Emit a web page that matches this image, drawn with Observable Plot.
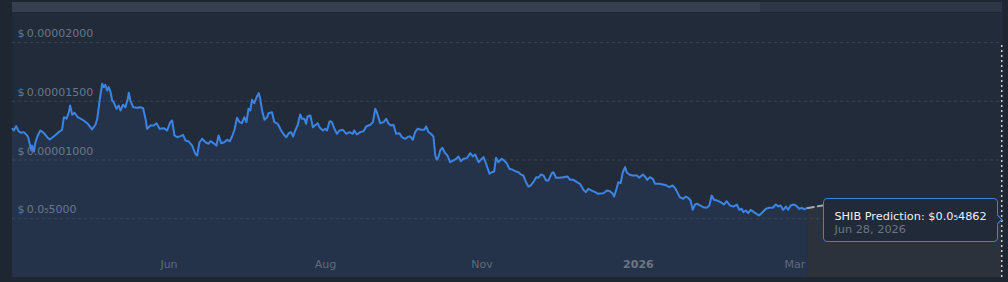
<!DOCTYPE html>
<html><head><meta charset="utf-8">
<script src="https://cdn.jsdelivr.net/npm/d3@7"></script>
<script src="https://cdn.jsdelivr.net/npm/@observablehq/plot@0.6"></script>
<style>
html,body{margin:0;padding:0;background:#1e2631;}
#wrap{position:relative;width:1008px;height:282px;overflow:hidden;font-family:"DejaVu Sans",sans-serif;}
#wrap svg{position:absolute;left:0;top:0;}
#nav{position:absolute;left:12px;top:2px;width:990px;height:10px;background:#2d3644;z-index:2;}
#nav .thumb{position:absolute;left:0;top:0;width:748px;height:10px;background:#363f4e;}
#tip{position:absolute;box-sizing:border-box;height:44px;padding:11px 10px 7px 10px;border:1px solid #3f80da;border-radius:4px;background:#212a38;white-space:nowrap;font-size:11.3px;line-height:13px;z-index:3;}
#tip .t1{color:#eef1f5;}
#tip .t2{color:#6b7585;}
#tip::after{content:"";position:absolute;right:-4px;top:50%;width:6px;height:6px;margin-top:-4px;border-top:1px solid #3f80da;border-right:1px solid #3f80da;background:#212a38;transform:rotate(45deg);}
</style>
</head><body>
<div id="wrap"><div id="nav"><div class="thumb"></div></div></div>
<script>
// price values in units of 1e-6 USD; x = day index along the chart
const histDays = [
0.0,0.5,1.4,2.4,3.3,4.3,5.4,6.0,6.6,7.2,
7.5,8.2,8.8,9.7,10.7,12.0,13.3,14.3,15.8,17.7,
19.0,19.7,20.7,21.6,22.1,22.9,23.8,25.0,26.1,27.3,
28.9,30.5,31.8,32.5,33.5,34.4,35.0,35.6,36.3,36.9,
37.6,38.2,38.8,39.9,40.7,41.4,42.4,43.3,44.2,44.6,
45.2,46.3,47.8,49.0,50.1,51.0,51.6,52.9,54.1,55.2,
56.4,58.0,59.3,60.5,61.2,62.1,63.1,64.4,65.4,66.3,
67.6,68.9,70.1,70.8,71.7,72.7,74.0,75.2,75.9,77.1,
78.2,79.0,80.0,81.2,82.3,83.3,84.2,85.1,86.1,87.1,
88.0,88.9,89.7,90.5,91.2,91.8,92.7,93.5,94.4,95.0,
95.7,96.6,97.6,98.2,99.5,100.4,101.7,103.0,104.0,105.0,
105.9,106.8,107.6,108.4,109.3,110.3,111.0,111.9,112.6,113.1,
114.2,115.2,115.9,117.0,117.7,119.0,119.9,120.6,121.6,122.5,
123.4,124.4,125.4,126.7,128.0,129.2,130.5,131.0,132.1,133.3,
134.6,135.6,137.2,138.2,139.1,139.7,141.0,142.3,143.3,144.2,
145.1,146.1,147.1,148.4,149.3,150.6,151.8,152.5,153.5,154.4,
155.3,156.6,157.9,158.6,159.5,160.4,161.4,162.1,162.7,163.3,
164.0,164.8,165.9,166.8,167.8,169.1,170.1,171.0,171.9,172.9,
174.2,175.5,176.5,177.4,178.7,179.6,180.6,181.6,182.9,183.8,
184.7,185.4,186.3,187.6,188.5,189.5,190.5,191.8,192.7,194.0,
194.9,195.9,196.9,197.8,198.7,199.7,200.8,201.7,202.6,203.6,
204.6,205.5,206.8,207.4,208.4,209.7,211.2,212.8,213.8,215.1,
216.4,217.6,218.9,219.9,220.8,222.1,223.4,224.6,226.6,227.9,
229.1,230.2,230.7,231.4,232.3,233.2,234.0,234.9,235.5,236.5,
237.8,239.4,240.3,241.7,242.5,243.4,244.4,245.5,246.4,248.0,
249.5,250.8,251.8,253.1,254.0,254.9,255.9,257.2,258.2,259.1,
260.0,260.8,261.7,262.6,263.6,264.9,266.2,267.2,268.1,269.0,
270.2,271.5,272.8,273.8,275.1,276.4,277.7,278.7,279.6,280.2,
281.2,282.1,283.0,284.3,285.3,286.3,287.6,288.9,290.2,291.5,
292.7,293.6,294.5,295.5,296.6,297.4,298.4,299.4,300.4,301.7,
302.6,303.5,304.5,305.0];
const histPrices = [
12.66,12.51,12.88,12.43,12.31,12.37,12.14,11.94,11.38,10.81,
11.23,10.72,11.51,12.09,12.51,12.31,11.94,11.74,12.00,12.37,
12.57,13.64,13.51,14.07,14.64,13.85,14.02,13.64,13.51,13.36,
13.08,12.60,13.00,13.51,15.21,16.49,16.20,16.40,15.91,16.20,
15.77,15.06,14.92,14.36,14.64,14.21,14.70,14.49,15.21,15.72,
15.06,14.49,14.44,14.49,14.41,13.51,12.66,12.94,12.94,13.13,
12.66,12.71,12.51,13.22,13.36,12.09,11.94,12.03,12.14,11.66,
11.57,11.23,10.53,10.38,11.51,11.80,11.51,11.38,11.60,11.43,
11.23,12.09,11.43,11.51,11.72,11.60,12.00,12.57,13.59,13.22,
13.13,13.64,13.22,14.36,14.21,15.12,14.83,15.29,15.69,15.21,
14.21,13.42,13.64,13.98,14.07,13.22,13.08,12.51,12.17,11.94,
12.28,12.37,12.00,12.51,12.94,13.87,13.51,13.51,13.08,13.70,
13.79,12.79,12.94,13.13,12.79,12.51,12.66,12.51,13.30,13.22,
12.66,12.23,12.51,12.57,12.23,12.37,12.23,12.51,12.17,12.37,
12.45,12.85,13.00,13.22,14.36,14.07,13.13,13.22,13.51,13.08,
12.94,13.00,12.23,12.28,11.94,11.80,12.00,12.00,11.72,12.37,
12.66,12.57,12.57,12.85,12.37,12.23,12.00,10.38,10.02,10.24,
10.81,11.04,10.58,10.38,9.81,9.96,10.10,10.30,9.90,10.10,
10.15,10.58,10.30,10.47,9.81,10.02,10.24,9.68,8.83,8.96,
9.02,10.19,9.81,10.10,9.96,9.73,9.25,9.17,9.05,8.96,
8.77,8.68,8.11,7.74,7.83,8.11,8.54,8.49,8.77,8.68,
8.26,8.26,8.88,8.96,8.49,8.49,8.54,8.60,8.31,8.31,
8.11,7.97,7.46,7.26,7.55,7.40,7.26,7.12,7.17,7.40,
7.34,7.12,6.89,7.40,8.11,8.03,8.96,9.39,8.96,8.77,
8.68,8.68,8.49,8.77,8.60,8.31,8.54,8.40,7.97,7.97,
7.91,7.83,7.69,7.83,7.63,7.26,6.83,6.70,6.89,6.78,
6.55,5.76,6.21,6.27,6.13,5.98,5.93,6.13,6.98,6.61,
6.55,6.41,6.21,6.49,6.13,6.04,6.21,5.76,5.85,5.56,
5.70,5.47,5.76,5.56,5.42,5.28,5.56,5.85,5.93,5.93,
6.21,6.04,6.13,5.76,6.04,5.76,6.13,6.21,6.13,5.85,
5.93,5.81,5.90,5.91];
const forecastDays = [305.0,310.7,319.2,328.7,334.5,347.9,359.4,370.9,379.3];
const forecastPrices = [5.91,6.13,6.21,6.26,6.13,5.70,5.36,5.02,4.862];
const yTicks = [5,10,15,20];
const yTickLabels = ["$\u20090.0\u20855000","$\u20090.00001000","$\u20090.00001500","$\u20090.00002000"];
const xTickDays = [60,120,180,240,300];
const xTickLabels = ["Jun","Aug","Nov","2026","Mar"];
const xTickBold = [false,false,false,true,false];
const tipTitle = "SHIB Prediction: $0.0\u20854862";
const tipDate = "Jun 28, 2026";

const hist = histDays.map((d,i)=>({d, p: histPrices[i]}));
const fc = forecastDays.map((d,i)=>({d, p: forecastPrices[i]}));
const xt = xTickDays.map((d,i)=>({d, label: xTickLabels[i], bold: xTickBold[i]}));
const yt = yTicks.map((v,i)=>({v, label: yTickLabels[i]}));

const chart = Plot.plot({
  width: 1008, height: 282,
  marginLeft: 12, marginRight: 6, marginTop: 12, marginBottom: 5,
  style: {background: "transparent", fontFamily: "DejaVu Sans, sans-serif", fontSize: "11px"},
  x: {domain: [0, 379.6], axis: null},
  y: {domain: [0, 22.55], axis: null},
  marks: [
    Plot.frame({fill: "#222b39", stroke: "none"}),
    Plot.areaY(hist, {x: "d", y: "p", fill: "#25334a"}),
    Plot.areaY(fc, {x: "d", y: "p", fill: "#2c323b"}),
    Plot.ruleY(yTicks, {stroke: "#3a4454", strokeDasharray: "3,3"}),
    Plot.lineY(hist, {x: "d", y: "p", stroke: "#3b84e3", strokeWidth: 2}),
    Plot.lineY(fc, {x: "d", y: "p", stroke: "#a3a6aa", strokeWidth: 2, strokeDasharray: "6,4"}),
    Plot.ruleX([forecastDays[forecastDays.length-1]], {y1: 0, y2: 20, stroke: "#c9cdd2", strokeWidth: 1.5, strokeDasharray: "2,3"}),
    Plot.text(yt, {y: "v", text: "label", frameAnchor: "left", textAnchor: "start", dx: 5, dy: -9, fill: "#6b7789", fontSize: 11}),
    Plot.text(xt, {filter: d => !d.bold, x: "d", text: "label", frameAnchor: "bottom", dy: -10, fill: "#5f6b7c", fontSize: 11}),
    Plot.text(xt, {filter: d => d.bold, x: "d", text: "label", frameAnchor: "bottom", dy: -10, fill: "#6b7686", fontSize: 11, fontWeight: "bold"})
  ]
});
const wrap = document.getElementById("wrap");
wrap.appendChild(chart);

const sx = chart.scale("x"), sy = chart.scale("y");
const px = sx.apply(forecastDays[forecastDays.length-1]);
const py = sy.apply(forecastPrices[forecastPrices.length-1]);
const tip = document.createElement("div");
tip.id = "tip";
tip.innerHTML = `<div class="t1"></div><div class="t2"></div>`;
tip.querySelector(".t1").textContent = tipTitle;
tip.querySelector(".t2").textContent = tipDate;
tip.style.right = (1008 - (px - 3.5)) + "px";
tip.style.top = (py - 22) + "px";
wrap.appendChild(tip);
</script>
</body></html>
